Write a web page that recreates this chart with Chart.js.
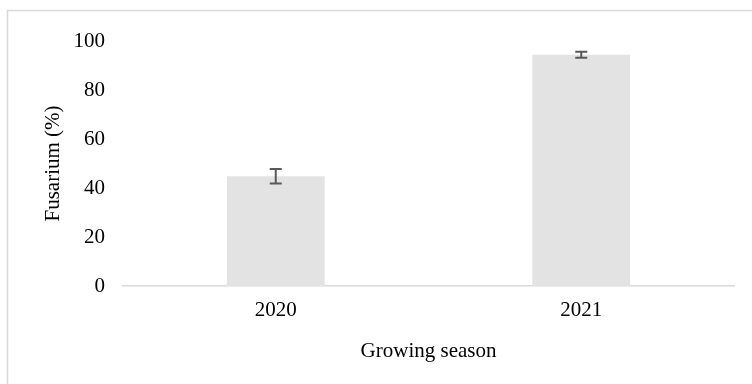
<!DOCTYPE html>
<html>
<head>
<meta charset="utf-8">
<script src="https://cdn.jsdelivr.net/npm/chart.js@4"></script>
<style>
  html, body { margin: 0; padding: 0; background: #fff; }
  #wrap { width: 752px; height: 384px; position: relative; }
</style>
</head>
<body>
<div id="wrap"><canvas id="fusChart" width="752" height="384"></canvas></div>
<script>
// data
const seasons = ["2020", "2021"];
const fusarium = [44.8, 94.4];
const fusariumErr = [3.0, 1.2];
const yTicks = [0, 20, 40, 60, 80, 100];

const serif = "'Liberation Serif', 'Times New Roman', serif";

// error bars drawn through the scales
const errorBars = {
  id: "errorBars",
  afterDatasetsDraw(chart) {
    const ctx = chart.ctx;
    const xs = chart.scales.x, ys = chart.scales.y;
    ctx.save();
    ctx.strokeStyle = "#595959";
    ctx.lineWidth = 2;
    fusarium.forEach((v, i) => {
      const x = xs.getPixelForValue(i);
      const top = ys.getPixelForValue(v + fusariumErr[i]);
      const bot = ys.getPixelForValue(v - fusariumErr[i]);
      ctx.beginPath();
      ctx.moveTo(x, top); ctx.lineTo(x, bot);
      ctx.moveTo(x - 6, top); ctx.lineTo(x + 6, top);
      ctx.moveTo(x - 6, bot); ctx.lineTo(x + 6, bot);
      ctx.stroke();
    });
    ctx.restore();
  }
};

// outer frame like the chart area border
const frame = {
  id: "frame",
  beforeDraw(chart) {
    const ctx = chart.ctx;
    ctx.save();
    ctx.strokeStyle = "#d9d9d9";
    ctx.lineWidth = 1.5;
    ctx.strokeRect(7.5, 10.5, 800, 400);
    ctx.restore();
  }
};

new Chart(document.getElementById("fusChart"), {
  type: "bar",
  data: {
    labels: seasons,
    datasets: [{
      data: fusarium,
      backgroundColor: "#e3e3e3",
      borderWidth: 0,
      categoryPercentage: 1,
      barPercentage: 0.32
    }]
  },
  options: {
    responsive: false,
    animation: false,
    layout: { padding: { left: 0, top: 41, right: 18, bottom: 0 } },
    plugins: { legend: { display: false }, tooltip: { enabled: false } },
    scales: {
      x: {
        grid: { display: false, drawTicks: false },
        border: { display: true, color: "#d9d9d9", width: 1.5 },
        ticks: { color: "#000", font: { family: serif, size: 21 }, padding: 12 },
        title: {
          display: true, text: "Growing season", color: "#000",
          font: { family: serif, size: 21 }, padding: { top: 0, bottom: 20 }
        },
        afterFit: s => { s.height = 98; }
      },
      y: {
        min: 0, max: 100,
        afterBuildTicks: s => { s.ticks = yTicks.map(v => ({ value: v })); },
        grid: { display: false, drawTicks: false },
        border: { display: false },
        ticks: { color: "#000", font: { family: serif, size: 21 }, padding: 18 },
        title: {
          display: true, text: "Fusarium (%)", color: "#000",
          font: { family: serif, size: 21 }, padding: { top: 41, bottom: 0 }
        },
        afterFit: s => { s.width = 123; }
      }
    }
  },
  plugins: [frame, errorBars]
});
</script>
</body>
</html>
